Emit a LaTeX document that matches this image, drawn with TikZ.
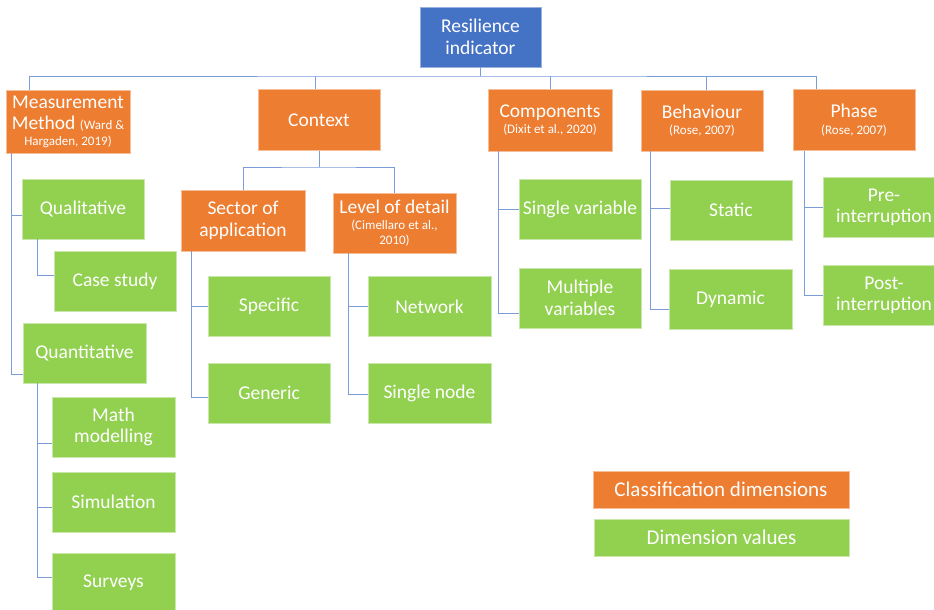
\documentclass[tikz,border=0pt]{standalone}
\usepackage{fontspec}
\setmainfont{Carlito}
\usetikzlibrary{positioning}
\definecolor{dimorange}{HTML}{ED7D31}
\definecolor{valgreen}{HTML}{92D050}
\definecolor{rootblue}{HTML}{4472C4}
\definecolor{linkblue}{HTML}{7C9CD9}
\newcommand{\refsrc}[1]{{\fontsize{13}{14.5}\selectfont #1}}

\tikzset{
  box/.style={text=white, align=center, inner sep=0pt, line width=0.8pt,
    minimum width=122pt, minimum height=60pt},
  rootbox/.style={box, fill=rootblue, draw=rootblue!55!white, minimum width=121pt},
  dimbox/.style={box, fill=dimorange, draw=dimorange!50!white, minimum height=61pt},
  valbox/.style={box, fill=valgreen, draw=valgreen!50!white},
  keybox/.style={box, minimum width=256pt, minimum height=37pt,
    font=\fontsize{21}{24}\selectfont},
  link/.style={draw=linkblue, line width=1pt}
}

\begin{document}
\begin{tikzpicture}[x=1pt, y=-1pt, font=\fontsize{19.5}{21.5}\selectfont]
\fill[white] (0,0) rectangle (934,610);
\useasboundingbox (0,0) rectangle (934,610);

% dimensions
\node[rootbox] (root) at (480.5,37) {Resilience\\indicator};
\node[dimbox, minimum width=124pt, minimum height=63pt] (method) at (68,121.5) {Measurement\\Method \refsrc{(Ward \&}\\[-6pt]\refsrc{Hargaden, 2019)}};
\node[dimbox] (context) at (319,120) {Context};
\node[dimbox, minimum width=124pt, minimum height=62pt] (comp) at (550,120) {Components\\[-5pt]\refsrc{(Dixit et al., 2020)}};
\node[dimbox] (behav) at (702,120.5) {Behaviour\\[-5pt]\refsrc{(Rose, 2007)}};
\node[dimbox] (phase) at (854,120) {Phase\\[-5pt]\refsrc{(Rose, 2007)}};
\node[dimbox, minimum width=124pt] (sector) at (243,220.5) {Sector of\\application};
\node[dimbox, minimum width=123pt, minimum height=60pt] (level) at (394.5,223) {Level of detail\\[-5pt]\refsrc{(Cimellaro et al.,}\\[-7pt]\refsrc{2010)}};

% values
\node[valbox] (qual) at (83,209) {Qualitative};
\node[valbox] (case) at (115,281) {Case study};
\node[valbox, minimum width=123pt] (quant) at (84.5,353) {Quantitative};
\node[valbox, minimum width=123pt] (math) at (113.5,427) {Math\\modelling};
\node[valbox, minimum width=123pt] (simu) at (113.5,502) {Simulation};
\node[valbox, minimum width=123pt] (surv) at (113.5,583) {Surveys};
\node[valbox] (spec) at (269,306.5) {Specific};
\node[valbox] (gen) at (269,393) {Generic};
\node[valbox, minimum width=123pt] (net) at (429.5,306.5) {Network};
\node[valbox, minimum width=123pt] (snode) at (429.5,393) {Single node};
\node[valbox] (sv) at (580,209) {Single variable};
\node[valbox] (mv) at (580,298) {Multiple\\variables};
\node[valbox] (static) at (731,210) {Static};
\node[valbox, minimum width=123pt] (dyn) at (730.5,299) {Dynamic};
\node[valbox] (pre) at (884,207.5) {Pre-\\interruption};
\node[valbox] (post) at (884,295.5) {Post-\\interruption};

% key
\node[keybox, fill=dimorange, draw=dimorange!50!white] (keydim) at (721,489.5) {Classification dimensions};
\node[keybox, fill=valgreen, draw=valgreen!50!white, minimum width=255pt] (keyval) at (721.5,537.5) {Dimension values};

% connectors
\coordinate (bus) at (480.5,76);
\coordinate (cbus) at (319,167);
\draw[link] (root.south) -- (bus);
\draw[link] ([xshift=-39pt]method.north) |- (bus) -| ([xshift=-38pt]phase.north);
\draw[link] ([xshift=-4pt]context.north) -- ([xshift=-4pt]context.north |- bus);
\draw[link] (comp.north) -- (comp.north |- bus);
\draw[link] ([xshift=4pt]behav.north) -- ([xshift=4pt]behav.north |- bus);
\draw[link] (context.south) -- (cbus);
\draw[link] (sector.north) |- (cbus) -| (level.north);

\draw[link] ([xshift=6pt]method.south west) |- ([yshift=-6pt]qual.west);
\draw[link] ([xshift=6pt]method.south west) |- ([yshift=-21pt]quant.west);
\draw[link] ([xshift=16pt]qual.south west) |- ([yshift=6pt]case.west);
\draw[link] ([xshift=15pt]quant.south west) |- ([yshift=-16pt]math.west);
\draw[link] ([xshift=15pt]quant.south west) |- ([yshift=-5pt]simu.west);
\draw[link] ([xshift=15pt]quant.south west) |- ([yshift=6pt]surv.west);
\draw[link] ([xshift=11pt]sector.south west) |- (spec.west);
\draw[link] ([xshift=11pt]sector.south west) |- ([yshift=-4pt]gen.west);
\draw[link] ([xshift=16pt]level.south west) |- (net.west);
\draw[link] ([xshift=16pt]level.south west) |- ([yshift=-1pt]snode.west);
\draw[link] ([xshift=11pt]comp.south west) |- (sv.west);
\draw[link] ([xshift=11pt]comp.south west) |- ([yshift=-15pt]mv.west);
\draw[link] ([xshift=10pt]behav.south west) |- ([yshift=2pt]static.west);
\draw[link] ([xshift=10pt]behav.south west) |- ([yshift=-10pt]dyn.west);
\draw[link] ([xshift=12pt]phase.south west) |- (pre.west);
\draw[link] ([xshift=12pt]phase.south west) |- (post.west);
\end{tikzpicture}
\end{document}
